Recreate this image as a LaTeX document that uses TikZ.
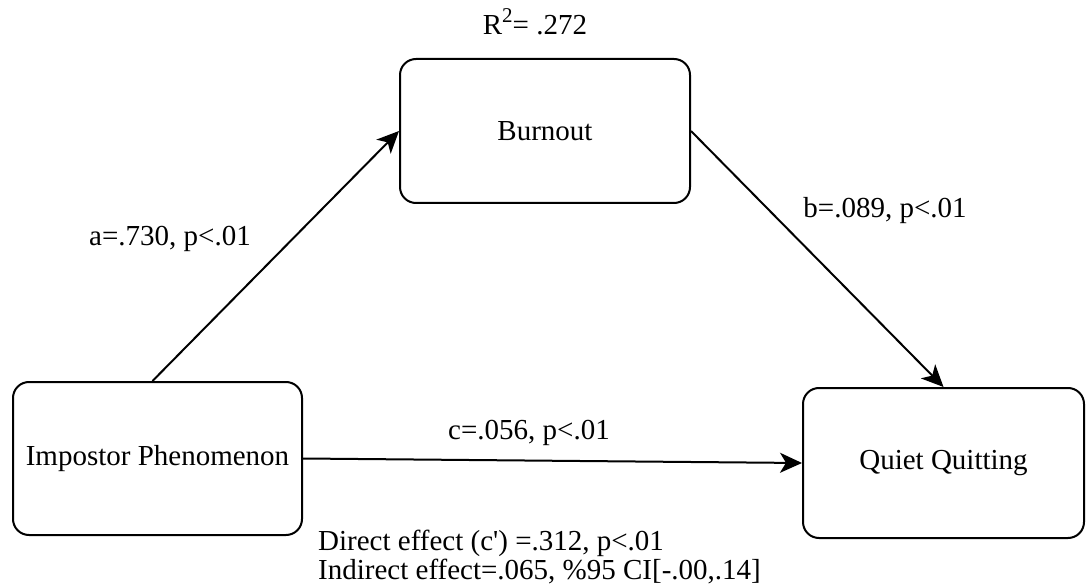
\documentclass[tikz,border=0pt]{standalone}
\usepackage{fontspec}
\setmainfont{Liberation Serif}
\usetikzlibrary{arrows.meta}
\begin{document}
\begin{tikzpicture}[x=1pt,y=-1pt,
  box/.style={draw, line width=2pt, rounded corners=16pt, inner sep=0pt,
              font=\fontsize{29}{34}\selectfont},
  link/.style={line width=2pt, -{Stealth[length=22pt,width=20pt,inset=6pt]}},
  lbl/.style={inner sep=0pt, anchor=base, font=\fontsize{29}{34}\selectfont},
  note/.style={inner sep=0pt, anchor=base west, font=\fontsize{29}{30}\selectfont}]
\useasboundingbox (0,0) rectangle (1087,588);

% variables
\node[box, minimum width=290pt, minimum height=144pt] (burn) at (545,131) {Burnout};
\node[box, minimum width=289pt, minimum height=153pt] (imp) at (157.5,458.5) {Impostor Phenomenon};
\node[box, minimum width=281pt, minimum height=150pt] (qq) at (943.5,463) {Quiet Quitting};

% paths
\draw[link] ([xshift=-5pt]imp.north) -- (burn.west);
\draw[link] (burn.east) -- (qq.north);
\draw[link] (imp.east) -- (qq.west);

% coefficients
\node[lbl] (rsq) at (535,35) {R\raisebox{0.42em}{\fontsize{21}{21}\selectfont 2}= .272};
\node[lbl] (la) at (170,245) {a=.730, p<.01};
\node[lbl] (lb) at (885,218) {b=.089, p<.01};
\node[lbl] (lc) at (529,439) {c=.056, p<.01};
\node[note] (d1) at (318,550) {Direct effect (c\textquotesingle) =.312, p<.01};
\node[note] (d2) at (318,579) {Indirect effect=.065, \%95 CI[-.00,.14]};
\end{tikzpicture}
\end{document}
